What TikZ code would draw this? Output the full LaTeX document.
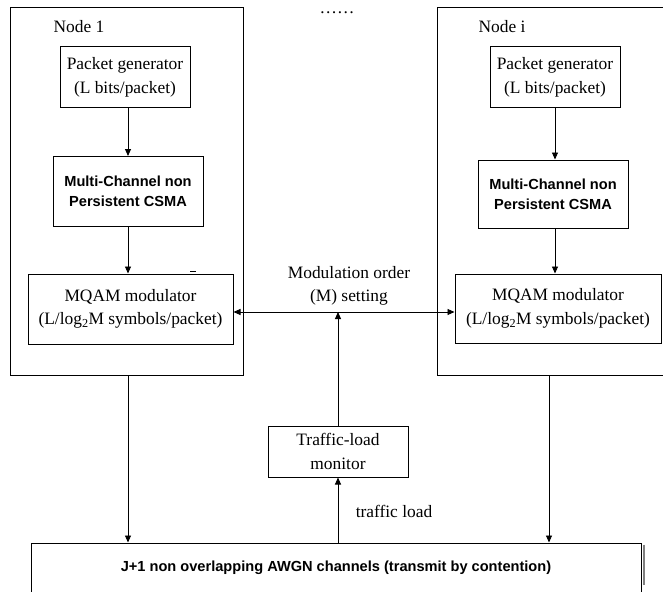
\documentclass[tikz,border=0pt]{standalone}
\usepackage{fontspec}
\setmainfont{Liberation Serif}
\setsansfont{Liberation Sans}
\usetikzlibrary{arrows.meta}
\tikzset{
    plain-box/.style = {draw, line width=1pt, rectangle, align=center, inner sep=0pt, font=\fontsize{17.4}{23.5}\selectfont},
    sans-box/.style = {plain-box, font=\sffamily\bfseries\fontsize{14.6}{20}\selectfont},
    node-frame/.style = {draw, line width=1pt, rectangle, inner sep=0pt},
    plain-text/.style = {align=center, inner sep=0pt, font=\fontsize{17.4}{23.5}\selectfont},
    arr/.style = {line width=0.9pt, -{Triangle[length=7pt,width=6pt]}},
    arr-both/.style = {line width=0.9pt, {Triangle[length=7pt,width=6pt]}-{Triangle[length=7pt,width=6pt]}},
}
\begin{document}
\begin{tikzpicture}[x=1pt,y=-1pt]
\useasboundingbox (0,0) rectangle (663,591);
% the two nodes
\node [node-frame, minimum width=233, minimum height=367] (frame1) at (126.5,191.5) {};
\node [node-frame, minimum width=253, minimum height=367] (framei) at (563.5,191.5) {};
\node [plain-text] (name1) at (79,27) {Node 1};
\node [plain-text] (namei) at (502,27) {Node i};
\node [plain-text] (dots) at (337,13) {……};

\node [plain-box, minimum width=130, minimum height=61] (pg1) at (125,77.5) {Packet generator\\(L bits/packet)};
\node [sans-box, minimum width=150, minimum height=70] (csma1) at (128,191.5) {Multi-Channel non\\Persistent CSMA};
\node [plain-box, minimum width=205, minimum height=70] (mqam1) at (130.5,309) {MQAM modulator\\(L/log\textsubscript{2}M symbols/packet)};

\node [plain-box, minimum width=130, minimum height=61] (pgi) at (555,77.5) {Packet generator\\(L bits/packet)};
\node [sans-box, minimum width=150, minimum height=68] (csmai) at (553,194) {Multi-Channel non\\Persistent CSMA};
\node [plain-box, minimum width=206, minimum height=69] (mqami) at (558,308.5) {MQAM modulator\\(L/log\textsubscript{2}M symbols/packet)};

% monitor and channels
\node [plain-box, minimum width=140, minimum height=51] (tlm) at (338,451.5) {Traffic-load\\monitor};
\node [sans-box, minimum width=610, minimum height=50] (chan) at (336,568) {J+1 non overlapping AWGN channels (transmit by contention)};
\draw [gray, line width=1.2pt] ([xshift=2.5pt,yshift=-2pt]chan.north east) -- ([xshift=2.5pt,yshift=-42pt]chan.north east);

\node [plain-text] (modlabel) at (349,286) {Modulation order\\(M) setting};
\node [plain-text] (loadlabel) at (394,511) {traffic load};
\draw [line width=0.9pt] (190,271) -- (196,271);

% connectors
\draw [arr] (csma1.north |- pg1.south) -- (csma1.north);
\draw [arr] (csma1.south) -- (csma1.south |- mqam1.north);
\draw [arr] (csma1.south |- frame1.south) -- (csma1.south |- chan.north);
\draw [arr] (pgi.south) -- (pgi.south |- csmai.north);
\draw [arr] (pgi.south |- csmai.south) -- (pgi.south |- mqami.north);
\coordinate (dropi) at (549,375);
\draw [arr] (dropi) -- (dropi |- chan.north);
\coordinate (modline) at ([yshift=-3pt]mqam1.east);
\draw [arr-both] (modline) -- (modline -| mqami.west);
\draw [arr] (tlm.north) -- (tlm.north |- modline);
\draw [arr] (tlm.south |- chan.north) -- (tlm.south);
\end{tikzpicture}
\end{document}
